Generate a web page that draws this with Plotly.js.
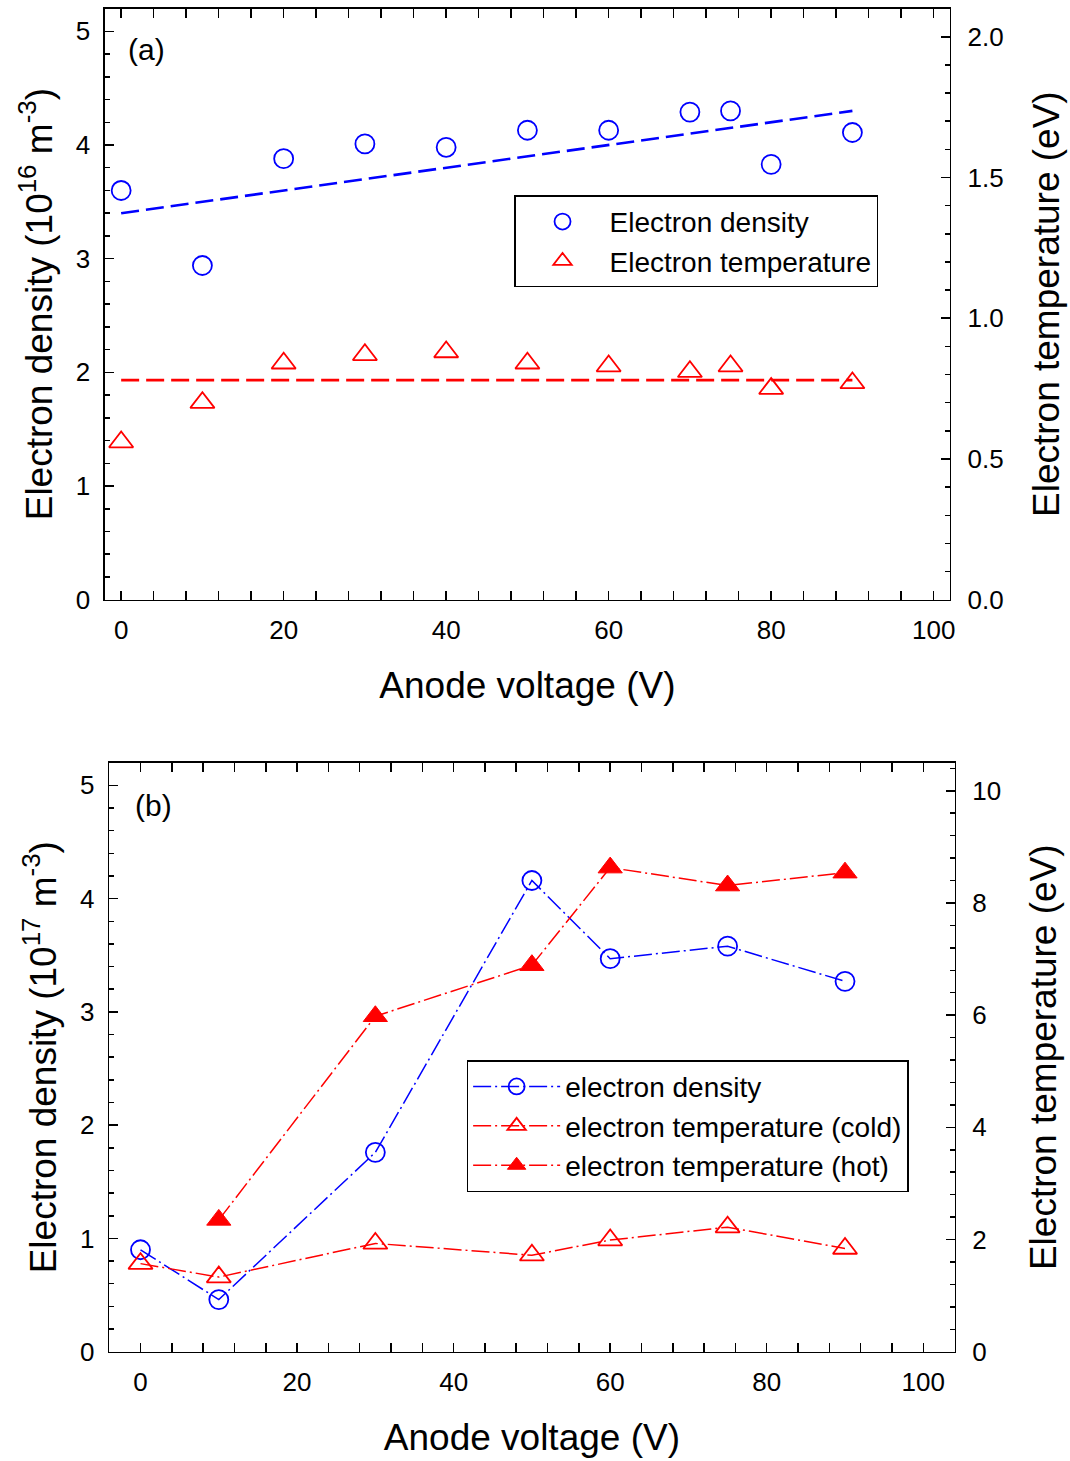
<!DOCTYPE html>
<html><head><meta charset="utf-8">
<script src="https://cdn.plot.ly/plotly-3.0.1.min.js"></script>
<style>html,body{margin:0;padding:0;background:#fff}</style>
</head><body>
<div id="chart" style="width:1070px;height:1461px"></div>
<script>
// ---- Panel (a) data ----
const voltageA = [0, 10, 20, 30, 40, 50, 60, 70, 75, 80, 90];
const densityA = [3.60, 2.94, 3.88, 4.01, 3.98, 4.13, 4.13, 4.29, 4.30, 3.83, 4.11];
const tempA = [0.56, 0.70, 0.84, 0.87, 0.88, 0.84, 0.83, 0.81, 0.83, 0.75, 0.77];
const fitVoltageA = [0, 90];
const fitDensityA = [3.40, 4.30];
const fitTempA = [0.78, 0.78];
// ---- Panel (b) data ----
const voltageB = [0, 10, 30, 50, 60, 75, 90];
const densityB = [0.90, 0.46, 1.76, 4.16, 3.47, 3.58, 3.27];
const tempColdB = [1.57, 1.33, 1.93, 1.72, 1.99, 2.22, 1.84];
const voltageHotB = [10, 30, 50, 60, 75, 90];
const tempHotB = [2.35, 5.98, 6.89, 8.63, 8.31, 8.54];
// ---- labels ----
const xTitle = 'Anode voltage (V)';
const yTitleA = 'Electron density (10<sup>16</sup> m<sup>-3</sup>)';
const yTitleB = 'Electron density (10<sup>17</sup> m<sup>-3</sup>)';
const y2Title = 'Electron temperature (eV)';
const namesA = ['Electron density', 'Electron temperature'];
const namesB = ['electron density', 'electron temperature (cold)', 'electron temperature (hot)'];

const FONT = 'Liberation Sans, Arial, Helvetica, sans-serif';
const BLUE = '#0000ff', RED = '#ff0000';
const dashB = '18px,4px,2px,4px';

const traces = [
  {x: voltageA, y: densityA, xaxis: 'x', yaxis: 'y', mode: 'markers', name: namesA[0], legend: 'legend',
   marker: {symbol: 'circle-open', size: 19, color: BLUE, line: {width: 1.8, color: BLUE}}},
  {x: voltageA, y: tempA, xaxis: 'x', yaxis: 'y2', mode: 'markers', name: namesA[1], legend: 'legend',
   marker: {symbol: 'triangle-up-open', size: 21, color: RED, line: {width: 1.8, color: RED}}},
  {x: fitVoltageA, y: fitDensityA, xaxis: 'x', yaxis: 'y', mode: 'lines', showlegend: false,
   line: {color: BLUE, width: 2.6, dash: '18px,7px'}},
  {x: fitVoltageA, y: fitTempA, xaxis: 'x', yaxis: 'y2', mode: 'lines', showlegend: false,
   line: {color: RED, width: 2.6, dash: '18px,7px'}},

  {x: voltageB, y: densityB, xaxis: 'x2', yaxis: 'y3', mode: 'lines+markers', name: namesB[0], legend: 'legend2',
   line: {color: BLUE, width: 1.5, dash: dashB},
   marker: {symbol: 'circle-open', size: 19, color: BLUE, line: {width: 1.8, color: BLUE}}},
  {x: voltageB, y: tempColdB, xaxis: 'x2', yaxis: 'y4', mode: 'lines+markers', name: namesB[1], legend: 'legend2',
   line: {color: RED, width: 1.5, dash: dashB},
   marker: {symbol: 'triangle-up-open', size: 21, color: RED, line: {width: 1.8, color: RED}}},
  {x: voltageHotB, y: tempHotB, xaxis: 'x2', yaxis: 'y4', mode: 'lines+markers', name: namesB[2], legend: 'legend2',
   line: {color: RED, width: 1.5, dash: dashB},
   marker: {symbol: 'triangle-up', size: 21, color: RED, line: {width: 1, color: RED}}}
];

function xAxis(domain, anchor, range) {
  return {
    domain: domain, anchor: anchor, range: range, tick0: 0, dtick: 20,
    ticks: 'inside', ticklen: 9, tickwidth: 1.5, tickcolor: '#000',
    minor: {dtick: 4, ticks: 'inside', ticklen: 5, tickwidth: 1.5, tickcolor: '#000'},
    showline: true, linewidth: 1.5, linecolor: '#000', mirror: 'allticks',
    showgrid: false, zeroline: false, ticklabelstandoff: 7,
    tickfont: {size: 26, family: FONT, color: '#000'},
    title: {text: xTitle, font: {size: 37, family: FONT, color: '#000'}, standoff: 27}
  };
}
function yAxis(domain, anchor, range, dtick, minorDtick, side, title, fmt, overlay) {
  const a = {
    anchor: anchor, range: range, tick0: 0, dtick: dtick, side: side,
    ticks: 'inside', ticklen: 9, tickwidth: 1.5, tickcolor: '#000',
    minor: {dtick: minorDtick, ticks: 'inside', ticklen: 5, tickwidth: 1.5, tickcolor: '#000'},
    showline: true, linewidth: 1.5, linecolor: '#000', mirror: false,
    showgrid: false, zeroline: false, ticklabelstandoff: side === 'left' ? 8 : 11,
    tickfont: {size: 26, family: FONT, color: '#000'},
    title: {text: title, font: {size: 37, family: FONT, color: '#000'}, standoff: side === 'left' ? 12 : 30}
  };
  if (fmt) a.tickformat = fmt;
  if (overlay) a.overlaying = overlay; else a.domain = domain;
  return a;
}

const legendBase = {
  xanchor: 'left', yanchor: 'top', bgcolor: '#fff', bordercolor: '#000', borderwidth: 1.5,
  font: {size: 28, family: FONT, color: '#000'}, tracegroupgap: 0
};

const layout = {
  width: 1070, height: 1461,
  margin: {l: 0, r: 0, t: 0, b: 0, pad: 0},
  paper_bgcolor: '#fff', plot_bgcolor: 'rgba(0,0,0,0)',
  font: {family: FONT, color: '#000'},
  showlegend: true,
  xaxis: xAxis([0.09804, 0.88776], 'y', [-2, 102]),
  yaxis: yAxis([0.58953, 0.99411], 'x', [0, 5.2], 1, 0.2, 'left', yTitleA),
  yaxis2: yAxis(null, 'x', [0, 2.1], 0.5, 0.1, 'right', y2Title, '.1f', 'y'),
  xaxis2: xAxis([0.10206, 0.89215], 'y3', [-4, 104]),
  yaxis3: yAxis([0.07481, 0.47796], 'x2', [0, 5.2], 1, 0.2, 'left', yTitleB),
  yaxis4: yAxis(null, 'x2', [0, 10.5], 2, 0.4, 'right', y2Title, null, 'y3'),
  legend: Object.assign({}, legendBase, {x: 0.4804, y: 0.8663, itemwidth: 84}),
  legend2: Object.assign({}, legendBase, {x: 0.4361, y: 0.2743, itemwidth: 87}),
  annotations: [
    {text: '(a)', xref: 'paper', yref: 'paper', x: 0.1178, y: 0.9658, xanchor: 'left', yanchor: 'middle',
     showarrow: false, font: {size: 30, family: FONT, color: '#000'}},
    {text: '(b)', xref: 'paper', yref: 'paper', x: 0.1240, y: 0.449, xanchor: 'left', yanchor: 'middle',
     showarrow: false, font: {size: 30, family: FONT, color: '#000'}}
  ]
};

Plotly.newPlot('chart', traces, layout, {staticPlot: true, displayModeBar: false});
</script>
</body></html>
